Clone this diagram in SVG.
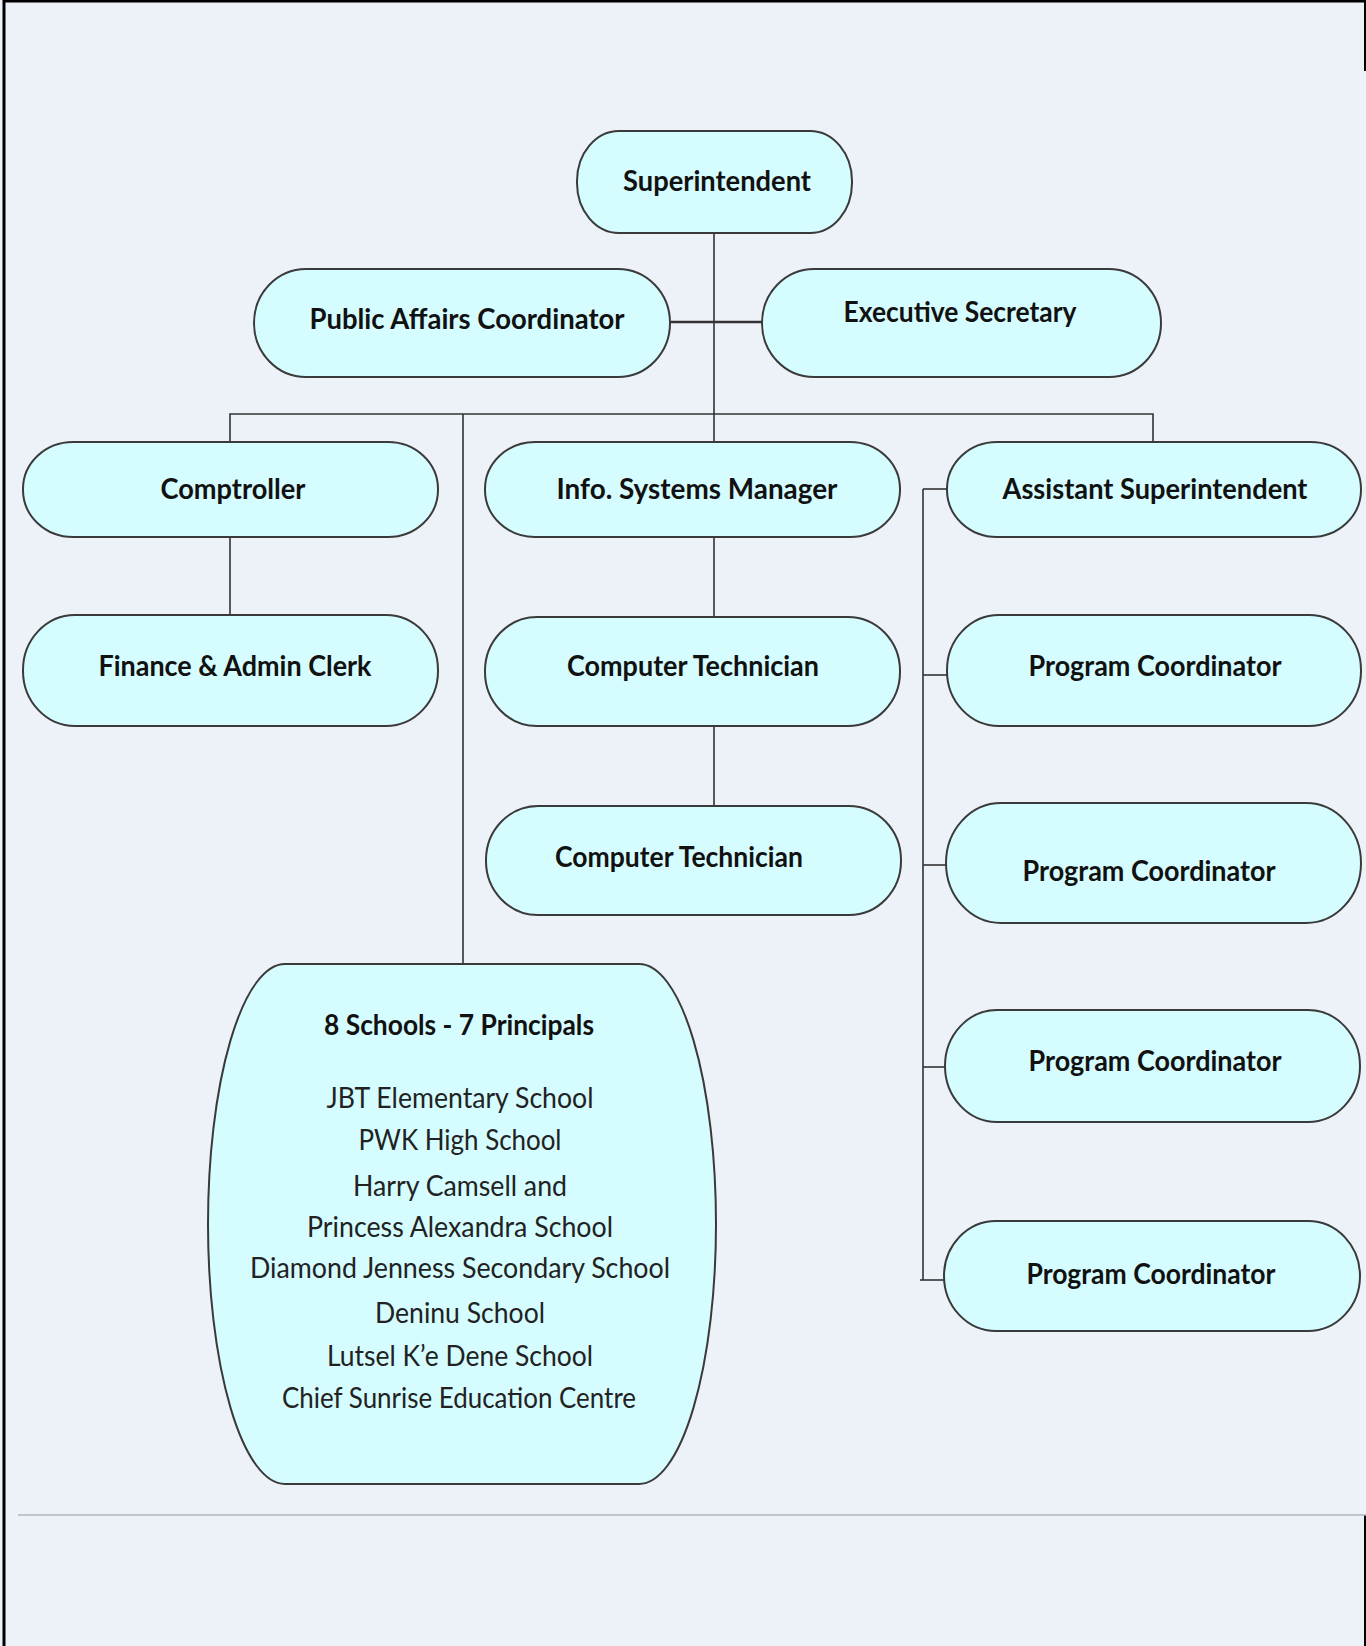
<svg xmlns="http://www.w3.org/2000/svg" width="1366" height="1646" viewBox="0 0 1366 1646">
<style>
.bg{fill:#EDF1F8}
.node rect{fill:#D5FCFE;stroke:#3a3a3a;stroke-width:2}
.lbl{font-family:Lato,"Open Sans","Liberation Sans",sans-serif;font-weight:bold;font-size:28px;fill:#111;text-anchor:middle}
.reg{font-family:Lato,"Open Sans","Liberation Sans",sans-serif;font-weight:normal;font-size:28px;fill:#222;text-anchor:middle}
#connectors path{fill:none;stroke:#333;stroke-width:1.6}
</style>
<rect class="bg" x="0" y="0" width="1366" height="1646"/>
<g id="frame" fill="none" stroke="#000">
<path d="M4 1646 V1 H1366" stroke-width="3"/>
<path d="M1365 0 V71" stroke-width="2"/>
<path d="M1365 1515 V1646" stroke-width="2"/>
<path d="M18 1515 H1366" stroke="#B0B4B8" stroke-width="1.5"/>
</g>
<g id="connectors">
<path d="M714 233 V414"/>
<path d="M670 322 H762" style="stroke-width:2.6"/>
<path d="M230 442 V414 H1153 V442"/>
<path d="M463 414 V964"/>
<path d="M714 414 V442"/>
<path d="M230 537 V615"/>
<path d="M714 537 V617"/>
<path d="M714 726 V806"/>
<path d="M923 489 V1280"/>
<path d="M923 489 H947"/>
<path d="M923 675 H947"/>
<path d="M923 865 H946"/>
<path d="M923 1067 H945"/>
<path d="M920 1280 H944"/>
</g>
<g id="superintendent" class="node"><rect x="577" y="131" width="275" height="102" rx="42" ry="50"/><text class="lbl" x="717" y="191" textLength="188" lengthAdjust="spacingAndGlyphs">Superintendent</text></g>
<g id="public-affairs" class="node"><rect x="254" y="269" width="416" height="108" rx="52" ry="54"/><text class="lbl" x="467" y="329" textLength="315" lengthAdjust="spacingAndGlyphs">Public Affairs Coordinator</text></g>
<g id="executive-secretary" class="node"><rect x="762" y="269" width="399" height="108" rx="52" ry="54"/><text class="lbl" x="960" y="322" textLength="233" lengthAdjust="spacingAndGlyphs">Executive Secretary</text></g>
<g id="comptroller" class="node"><rect x="23" y="442" width="415" height="95" rx="50" ry="47"/><text class="lbl" x="233" y="499" textLength="145" lengthAdjust="spacingAndGlyphs">Comptroller</text></g>
<g id="info-systems" class="node"><rect x="485" y="442" width="415" height="95" rx="50" ry="47"/><text class="lbl" x="697" y="499" textLength="281" lengthAdjust="spacingAndGlyphs">Info. Systems Manager</text></g>
<g id="assistant-superintendent" class="node"><rect x="947" y="442" width="414" height="95" rx="50" ry="47"/><text class="lbl" x="1155" y="499" textLength="305" lengthAdjust="spacingAndGlyphs">Assistant Superintendent</text></g>
<g id="finance-clerk" class="node"><rect x="23" y="615" width="415" height="111" rx="52" ry="55"/><text class="lbl" x="235" y="676" textLength="273" lengthAdjust="spacingAndGlyphs">Finance &amp; Admin Clerk</text></g>
<g id="computer-tech-1" class="node"><rect x="485" y="617" width="415" height="109" rx="52" ry="54"/><text class="lbl" x="693" y="676" textLength="252" lengthAdjust="spacingAndGlyphs">Computer Technician</text></g>
<g id="computer-tech-2" class="node"><rect x="486" y="806" width="415" height="109" rx="52" ry="54"/><text class="lbl" x="679" y="867" textLength="248" lengthAdjust="spacingAndGlyphs">Computer Technician</text></g>
<g id="program-coord-1" class="node"><rect x="947" y="615" width="414" height="111" rx="52" ry="55"/><text class="lbl" x="1155" y="676" textLength="253" lengthAdjust="spacingAndGlyphs">Program Coordinator</text></g>
<g id="program-coord-2" class="node"><rect x="946" y="803" width="415" height="120" rx="55" ry="60"/><text class="lbl" x="1149" y="881" textLength="253" lengthAdjust="spacingAndGlyphs">Program Coordinator</text></g>
<g id="program-coord-3" class="node"><rect x="945" y="1010" width="415" height="112" rx="52" ry="56"/><text class="lbl" x="1155" y="1071" textLength="253" lengthAdjust="spacingAndGlyphs">Program Coordinator</text></g>
<g id="program-coord-4" class="node"><rect x="944" y="1221" width="416" height="110" rx="52" ry="55"/><text class="lbl" x="1151" y="1284" textLength="249" lengthAdjust="spacingAndGlyphs">Program Coordinator</text></g>
<g id="schools" class="node"><rect x="208" y="964" width="508" height="520" rx="77" ry="260"/>
<text class="lbl" x="459" y="1035" textLength="270" lengthAdjust="spacingAndGlyphs">8 Schools - 7 Principals</text>
<text class="reg" x="460" y="1108" textLength="267" lengthAdjust="spacingAndGlyphs">JBT Elementary School</text>
<text class="reg" x="460" y="1150" textLength="203" lengthAdjust="spacingAndGlyphs">PWK High School</text>
<text class="reg" x="460" y="1196" textLength="214" lengthAdjust="spacingAndGlyphs">Harry Camsell and</text>
<text class="reg" x="460" y="1237" textLength="306" lengthAdjust="spacingAndGlyphs">Princess Alexandra School</text>
<text class="reg" x="460" y="1278" textLength="420" lengthAdjust="spacingAndGlyphs">Diamond Jenness Secondary School</text>
<text class="reg" x="460" y="1323" textLength="170" lengthAdjust="spacingAndGlyphs">Deninu School</text>
<text class="reg" x="460" y="1366" textLength="266" lengthAdjust="spacingAndGlyphs">Lutsel K’e Dene School</text>
<text class="reg" x="459" y="1408" textLength="354" lengthAdjust="spacingAndGlyphs">Chief Sunrise Education Centre</text>
</g>
</svg>
